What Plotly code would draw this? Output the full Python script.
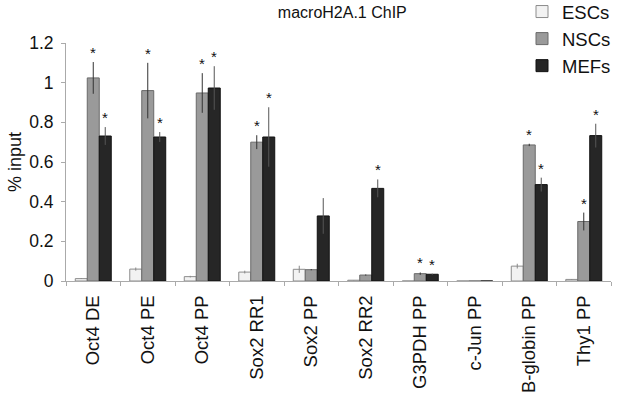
import plotly.graph_objects as go

categories = ["Oct4 DE", "Oct4 PE", "Oct4 PP", "Sox2 RR1", "Sox2 PP",
              "Sox2 RR2", "G3PDH PP", "c-Jun PP", "B-globin PP", "Thy1 PP"]

esc = [0.012, 0.06, 0.022, 0.045, 0.059, 0.004, 0.0, 0.0, 0.075, 0.008]
esc_err = [0.002, 0.008, 0.004, 0.007, 0.018, 0.001, 0.0, 0.0, 0.012, 0.002]
nsc = [1.024, 0.96, 0.948, 0.70, 0.057, 0.03, 0.037, 0.0, 0.686, 0.30]
nsc_err = [0.08, 0.14, 0.10, 0.035, 0.003, 0.003, 0.006, 0.0, 0.006, 0.045]
mef = [0.731, 0.726, 0.973, 0.726, 0.328, 0.467, 0.034, 0.0, 0.486, 0.733]
mef_err = [0.045, 0.025, 0.11, 0.15, 0.09, 0.045, 0.003, 0.0, 0.035, 0.06]

# significance stars (1 = starred)
nsc_sig = [1, 1, 1, 1, 0, 0, 1, 0, 1, 1]
mef_sig = [1, 1, 1, 1, 0, 1, 1, 0, 1, 1]

series = [
    ("ESCs", esc, esc_err, "#f2f2f2", "#8c8c8c", "#888888"),
    ("NSCs", nsc, nsc_err, "#9a9a9a", "#6a6a6a", "#333333"),
    ("MEFs", mef, mef_err, "#262626", "#111111", "#555555"),
]

fig = go.Figure()
for name, vals, errs, fill, line, ecol in series:
    fig.add_trace(go.Bar(
        name=name, x=categories, y=vals,
        marker=dict(color=fill, line=dict(color=line, width=1)),
        error_y=dict(type="data", array=errs, visible=True,
                     color=ecol, thickness=1, width=0),
    ))

annotations = []
for shift, vals, errs, sig in [(0, nsc, nsc_err, nsc_sig), (12, mef, mef_err, mef_sig)]:
    for c, v, e, s in zip(categories, vals, errs, sig):
        if s:
            annotations.append(dict(
                x=c, y=v + e, text="*", showarrow=False, xshift=shift,
                yanchor="bottom", yshift=-1,
                font=dict(family="Liberation Sans, Arial", size=15, color="#111111"),
            ))

fig.update_layout(
    width=618, height=400,
    margin=dict(l=66, r=7, t=43, b=119, autoexpand=False),
    paper_bgcolor="white", plot_bgcolor="white",
    barmode="group", bargap=0.34, bargroupgap=0,
    font=dict(family="Liberation Sans, Arial", size=17, color="#111111"),
    title=dict(text="macroH2A.1 ChIP", x=0.507, xanchor="center",
               xref="paper", y=0.97, yanchor="middle", font=dict(size=16)),
    legend=dict(x=0.8367, y=1.21, xanchor="left", yanchor="top",
                xref="paper", yref="paper",
                bgcolor="rgba(0,0,0,0)", font=dict(size=18.5),
                itemwidth=30, tracegroupgap=0),
    annotations=annotations,
    showlegend=True,
)
fig.update_xaxes(
    showline=True, linecolor="#aaaaaa", linewidth=1, automargin=False,
    ticks="outside", tickson="boundaries", ticklen=4, tickcolor="#aaaaaa",
    tickangle=-90, tickfont=dict(size=18.5), ticklabelstandoff=6,
    showgrid=False,
)
fig.update_yaxes(
    range=[0, 1.2], tickvals=[0, 0.2, 0.4, 0.6, 0.8, 1, 1.2],
    ticktext=["0", "0.2", "0.4", "0.6", "0.8", "1", "1.2"],
    showline=True, linecolor="#aaaaaa", linewidth=1, automargin=False,
    ticks="outside", ticklen=4, tickcolor="#aaaaaa",
    tickfont=dict(size=17.5), ticklabelstandoff=4,
    showgrid=False, zeroline=False,
    title=dict(text="% input", font=dict(size=18), standoff=2),
)

# drop the default 8px page margin so the figure fills the window
fig.write_html("out.html", config={"displayModeBar": False},
               post_script="document.body.style.margin = '0';")
